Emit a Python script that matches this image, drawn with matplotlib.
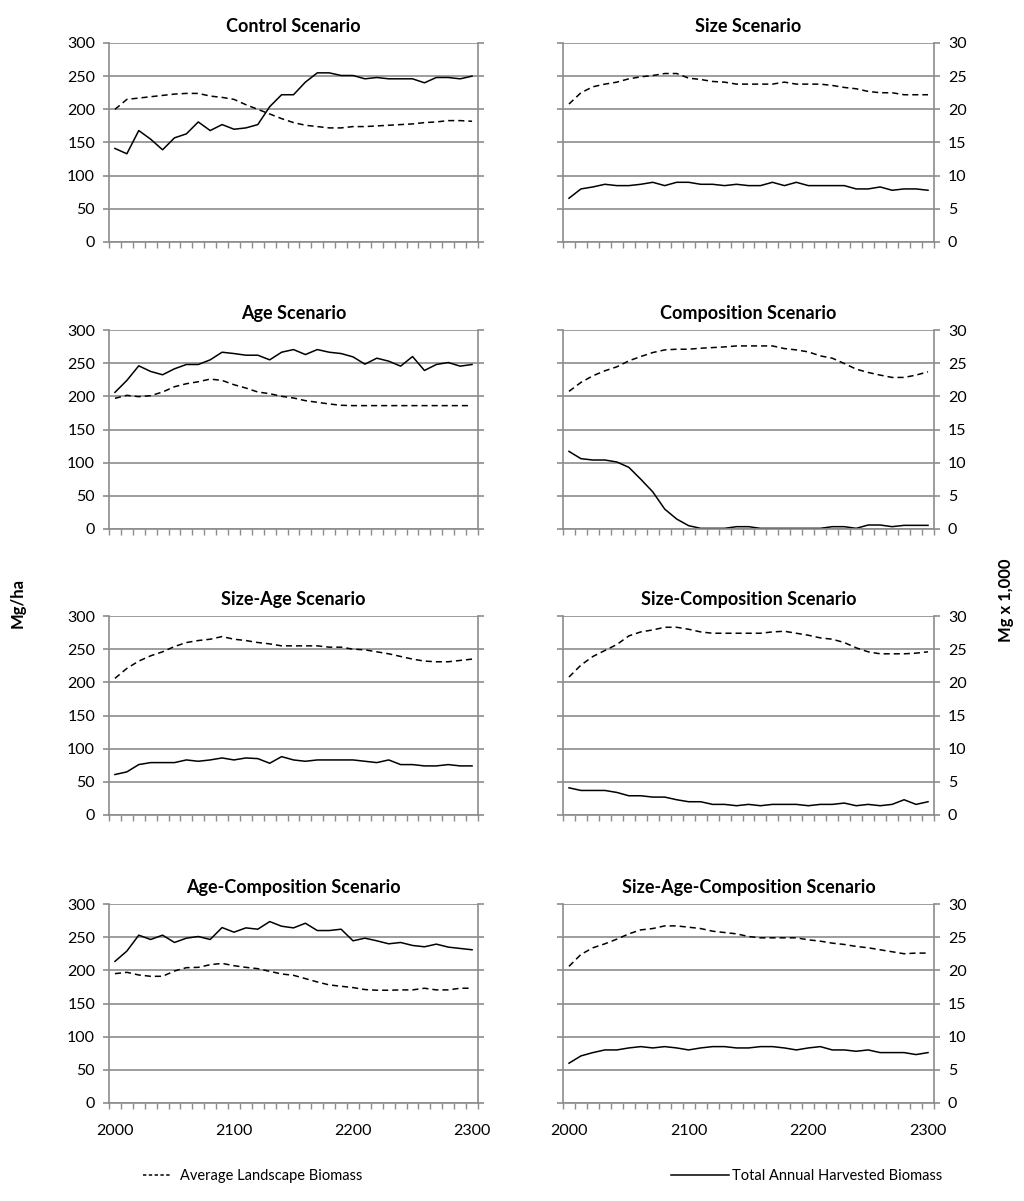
import numpy as np
import matplotlib.pyplot as plt

plt.rcParams['font.family'] = ['Lato', 'DejaVu Sans']

years = np.arange(2000, 2301, 10)

titles = ["Control Scenario", "Size Scenario",
          "Age Scenario", "Composition Scenario",
          "Size-Age Scenario", "Size-Composition Scenario",
          "Age-Composition Scenario", "Size-Age-Composition Scenario"]

# Average Landscape Biomass (dashed)
control_avg = [200, 215, 217, 219, 221, 223, 224, 224, 220, 218, 215, 207, 200, 193, 186, 180,
               176, 174, 172, 172, 174, 174, 175, 176, 177, 178, 180, 181, 183, 183, 182]
size_avg = [20.8, 22.5, 23.4, 23.8, 24.1, 24.6, 24.9, 25.1, 25.4, 25.4, 24.7, 24.5, 24.2, 24.1, 23.8, 23.8,
            23.8, 23.8, 24.1, 23.8, 23.8, 23.8, 23.6, 23.3, 23.1, 22.7, 22.5, 22.5, 22.2, 22.2, 22.2]
age_avg = [197, 201.5, 199.5, 201, 206.5, 214.5, 219, 222, 226, 224, 217.5, 212.5, 206.5, 204, 200, 197.5,
           193.5, 191, 188.5, 186.5, 186, 186, 186, 186, 186, 186, 186, 186, 186, 186, 186]
comp_avg = [20.75, 22.1, 23.1, 23.85, 24.45, 25.35, 26.0, 26.6, 27.0, 27.1, 27.1, 27.25, 27.35, 27.45, 27.6, 27.6,
            27.6, 27.6, 27.2, 27.0, 26.7, 26.1, 25.75, 24.95, 24.1, 23.6, 23.2, 22.85, 22.85, 23.2, 23.7]
size_age_avg = [206, 221, 232, 240, 246, 254, 260, 263, 265, 269, 265, 263, 260, 258, 255, 255,
                255, 255, 253, 253, 250, 249, 246, 243, 239, 235, 232, 231, 231, 233, 235]
size_comp_avg = [20.8, 22.6, 23.9, 24.8, 25.7, 27.0, 27.6, 27.9, 28.3, 28.3, 28.0, 27.6, 27.4, 27.4, 27.4, 27.4,
                 27.4, 27.6, 27.7, 27.4, 27.1, 26.7, 26.5, 26.0, 25.2, 24.6, 24.3, 24.3, 24.3, 24.4, 24.6]
age_comp_avg = [195, 197, 193, 191, 191, 199, 204, 204.5, 208.5, 210.5, 207, 204.5, 202.5, 198.5, 194.5, 192.5,
                187.5, 182.5, 178, 176, 174, 171, 170, 170, 170.5, 170.5, 173, 170.5, 170.5, 173, 173]
size_age_comp_avg = [20.6, 22.4, 23.4, 24.0, 24.7, 25.5, 26.1, 26.3, 26.7, 26.7, 26.5, 26.3, 25.9, 25.7, 25.5, 25.1,
                     24.9, 24.9, 24.9, 24.9, 24.6, 24.4, 24.1, 23.9, 23.6, 23.4, 23.1, 22.8, 22.5, 22.6, 22.6]

# Total Annual Harvested Biomass (solid)
control_harv = [141, 133, 168, 155, 139, 157, 163, 181, 168, 177, 170, 172, 177, 204, 222, 222,
                241, 255, 255, 251, 251, 246, 248, 246, 246, 246, 240, 248, 248, 246, 250]
size_harv = [6.6, 8.0, 8.3, 8.7, 8.5, 8.5, 8.7, 9.0, 8.5, 9.0, 9.0, 8.7, 8.7, 8.5, 8.7, 8.5,
             8.5, 9.0, 8.5, 9.0, 8.5, 8.5, 8.5, 8.5, 8.0, 8.0, 8.3, 7.8, 8.0, 8.0, 7.8]
age_harv = [206, 224, 246, 237.5, 232.5, 241.5, 248, 248, 255, 266.5, 264.5, 262, 262, 255, 266.5, 270.5,
            263, 270.5, 266.5, 264.5, 259.5, 248.5, 257.5, 253, 245.5, 260, 239, 248, 251, 245.5, 248]
comp_harv = [11.7, 10.6, 10.4, 10.4, 10.1, 9.3, 7.5, 5.6, 3.0, 1.5, 0.5, 0.1, 0.1, 0.1, 0.35, 0.35,
             0.1, 0.1, 0.1, 0.1, 0.1, 0.1, 0.35, 0.35, 0.1, 0.6, 0.6, 0.35, 0.55, 0.55, 0.55]
size_age_harv = [61, 65, 76, 79, 79, 79, 83, 81, 83, 86, 83, 86, 85, 78, 88, 83,
                 81, 83, 83, 83, 83, 81, 79, 83, 76, 76, 74, 74, 76, 74, 74]
size_comp_harv = [4.1, 3.7, 3.7, 3.7, 3.4, 2.9, 2.9, 2.7, 2.7, 2.3, 2.0, 2.0, 1.6, 1.6, 1.4, 1.6,
                  1.4, 1.6, 1.6, 1.6, 1.4, 1.6, 1.6, 1.8, 1.4, 1.6, 1.4, 1.6, 2.3, 1.6, 2.0]
age_comp_harv = [213.5, 229, 253, 246.5, 253, 242, 248.5, 251, 246.5, 264.5, 257.5, 264, 262, 273.5, 266.5, 264,
                 271, 260, 260, 262, 244.5, 248.5, 244.5, 240, 242, 237.5, 235.5, 239.5, 235, 233, 231]
size_age_comp_harv = [6.0, 7.1, 7.6, 8.0, 8.0, 8.3, 8.5, 8.3, 8.5, 8.3, 8.0, 8.3, 8.5, 8.5, 8.3, 8.3,
                      8.5, 8.5, 8.3, 8.0, 8.3, 8.5, 8.0, 8.0, 7.8, 8.0, 7.6, 7.6, 7.6, 7.3, 7.6]

avg_series = [control_avg, size_avg, age_avg, comp_avg,
              size_age_avg, size_comp_avg, age_comp_avg, size_age_comp_avg]
harv_series = [control_harv, size_harv, age_harv, comp_harv,
               size_age_harv, size_comp_harv, age_comp_harv, size_age_comp_harv]

W, H = 1024, 1201
fig = plt.figure(figsize=(W / 100, H / 100), dpi=100)

gray = "#8c8c8c"
col_left = [109, 563]
col_width = [369, 371]
row_top = [43, 330, 616, 904]
ax_h = 199

for i in range(8):
    r, c = divmod(i, 2)
    ax = fig.add_axes([col_left[c] / W, 1 - (row_top[r] + ax_h) / H, col_width[c] / W, ax_h / H])
    ax.plot(years, avg_series[i], color="black", lw=1.1, ls=(0, (4, 2.6)))
    ax.plot(years, harv_series[i], color="black", lw=1.1)

    ax.set_xlim(1995, 2305)
    if c == 0:
        ax.set_ylim(0, 300)
        ax.set_yticks(np.arange(0, 301, 50))
    else:
        ax.set_ylim(0, 30)
        ax.set_yticks(np.arange(0, 31, 5))
        ax.yaxis.tick_right()

    ax.grid(axis="y", color=gray, lw=1.2)
    ax.set_axisbelow(True)
    ax.spines["top"].set_visible(False)
    for side in ["left", "right", "bottom"]:
        ax.spines[side].set_color(gray)
        ax.spines[side].set_linewidth(1.2)

    ax.tick_params(axis="y", which="major", left=True, right=True, direction="out",
                   length=4, color=gray, width=1.2, labelsize=11.5, pad=6,
                   labelleft=(c == 0), labelright=(c == 1))
    ax.set_xticks(np.arange(1995, 2306, 10), minor=True)
    ax.set_xticks([2000, 2100, 2200, 2300])
    ax.tick_params(axis="x", which="minor", direction="out", length=4, color=gray, width=1)
    ax.tick_params(axis="x", which="major", length=0, labelsize=11.5, pad=15,
                   labelbottom=(r == 3))

    ax.set_title(titles[i], fontsize=13, fontweight="bold", pad=8)

fig.text(18 / W, 1 - 603 / H, "Mg/ha", rotation=90, ha="center", va="center",
         fontsize=12, fontweight="bold")
fig.text(1006 / W, 1 - 600 / H, "Mg x 1,000", rotation=90, ha="center", va="center",
         fontsize=12, fontweight="bold")

# legend entries along the bottom
h_avg = plt.Line2D([], [], color="black", lw=1.1, ls=(0, (2.2, 1.6)))
h_harv = plt.Line2D([], [], color="black", lw=1.1)
fig.legend([h_avg], ["Average Landscape Biomass"], loc="center left",
           bbox_to_anchor=(130 / W, 1 - 1176 / H), frameon=False, fontsize=10.5,
           handlelength=2.0, handletextpad=0.5)
fig.legend([h_harv], ["Total Annual Harvested Biomass"], loc="center left",
           bbox_to_anchor=(658 / W, 1 - 1176 / H), frameon=False, fontsize=10.5,
           handlelength=4.0, handletextpad=0.2)

fig.savefig("out.png", dpi=100)
